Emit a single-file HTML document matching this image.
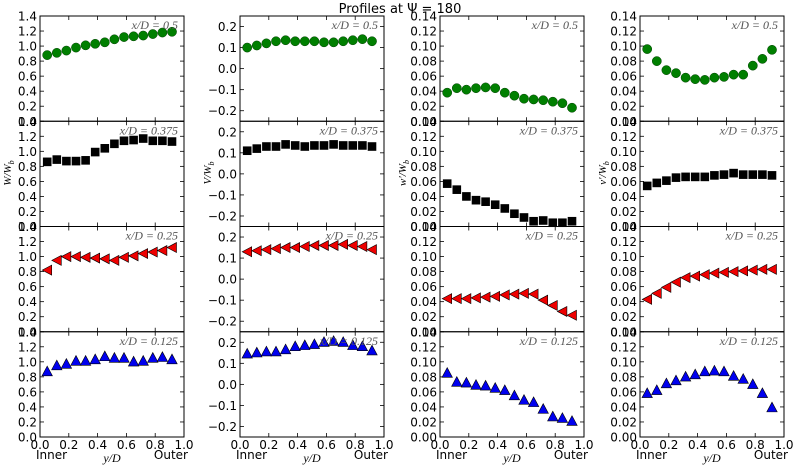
<!DOCTYPE html>
<html><head><meta charset="utf-8"><style>
body{margin:0;background:#fff}
svg{display:block}
text{font-family:"DejaVu Sans","Liberation Sans",sans-serif}
.it{font-family:"Liberation Serif",serif;font-style:italic}
</style></head><body>
<svg id="s" width="800" height="466" xmlns="http://www.w3.org/2000/svg">
<text x="400" y="13" text-anchor="middle" font-size="13">Profiles at Ψ = 180</text>
</svg>
<script>
const S=document.getElementById('s');let h='';
const lefts=[40,240,440,640],W=144,top0=16,RH=105.25;
const ranges=[[0,1.4],[-0.25,0.25],[0,0.14],[0,0.14]];
const ticks=[[0,.2,.4,.6,.8,1,1.2,1.4],[-.2,-.1,0,.1,.2],[0,.02,.04,.06,.08,.1,.12,.14],[0,.02,.04,.06,.08,.1,.12,.14]];
const fmt=[v=>v.toFixed(1),v=>(v<0?'−':'')+Math.abs(v).toFixed(1),v=>v.toFixed(2),v=>v.toFixed(2)];
const ylab=['W/W','V/W','w′/W','v′/W'];
const xd=['0.5','0.375','0.25','0.125'];
const D=[
[[.88,.91,.94,.98,1.01,1.03,1.05,1.09,1.12,1.13,1.14,1.16,1.18,1.19],
 [.86,.89,.87,.87,.88,.99,1.04,1.10,1.14,1.15,1.17,1.14,1.14,1.13],
 [.82,.95,1.0,1.0,.99,.98,.97,.95,.99,1.01,1.04,1.06,1.08,1.12],
 [.87,.95,.97,1.01,1.01,1.03,1.07,1.05,1.05,1.0,1.01,1.05,1.06,1.03]],
[[.10,.11,.12,.13,.135,.13,.13,.13,.125,.125,.13,.135,.14,.13],
 [.11,.12,.13,.13,.14,.135,.13,.135,.135,.14,.135,.135,.135,.13],
 [.13,.135,.14,.145,.15,.15,.155,.16,.16,.16,.165,.16,.155,.14],
 [.145,.15,.155,.155,.165,.18,.185,.19,.2,.205,.2,.185,.18,.16]],
[[.038,.044,.042,.044,.045,.044,.038,.034,.030,.029,.028,.026,.024,.018],
 [.057,.049,.040,.035,.033,.029,.024,.017,.012,.007,.008,.005,.005,.007],
 [.044,.044,.044,.045,.046,.047,.049,.05,.051,.05,.042,.035,.027,.022],
 [.085,.073,.072,.069,.068,.065,.062,.055,.049,.046,.037,.027,.025,.021]],
[[.096,.080,.068,.064,.058,.056,.055,.058,.059,.062,.062,.074,.083,.095],
 [.054,.058,.061,.065,.066,.066,.066,.068,.069,.071,.069,.069,.069,.068],
 [.043,.051,.059,.066,.072,.074,.076,.078,.079,.08,.081,.082,.083,.083],
 [.058,.062,.071,.075,.08,.083,.087,.088,.087,.081,.077,.07,.058,.039]]];
function mk(r,x,y){
 if(r==0)return `<circle cx="${x}" cy="${y}" r="4.6" fill="#007f00" stroke="#004000" stroke-width=".5"/>`;
 if(r==1)return `<rect x="${x-4.3}" y="${y-4.3}" width="8.6" height="8.6" fill="#000"/>`;
 if(r==2)return `<polygon points="${x-5},${y} ${x+4.5},${y-5} ${x+4.5},${y+5}" fill="#e00" stroke="#000" stroke-width=".6"/>`;
 return `<polygon points="${x},${y-5.5} ${x-5.2},${y+4.2} ${x+5.2},${y+4.2}" fill="#0000ee" stroke="#000" stroke-width=".6"/>`;
}
for(let c=0;c<4;c++){
 const L=lefts[c],[a,b]=ranges[c];
 for(let r=0;r<4;r++){
  const T=top0+r*RH,B=T+RH;
  const Y=v=>B-(v-a)/(b-a)*RH;
  for(const t of ticks[c]){const y=Y(t);
   h+=`<line x1="${L}" x2="${L+4}" y1="${y}" y2="${y}" stroke="#000" stroke-width=".8"/><line x1="${L+W-4}" x2="${L+W}" y1="${y}" y2="${y}" stroke="#000" stroke-width=".8"/>`;
   h+=`<text x="${L-3}" y="${y+4.5}" text-anchor="end" font-size="12">${fmt[c](t)}</text>`;}
  for(let i=0;i<=5;i++){const x=L+i*W/5;
   h+=`<line x1="${x}" x2="${x}" y1="${B}" y2="${B-4}" stroke="#000" stroke-width=".8"/><line x1="${x}" x2="${x}" y1="${T}" y2="${T+4}" stroke="#000" stroke-width=".8"/>`;
   if(r==3)h+=`<text x="${x}" y="${B+12}" text-anchor="middle" font-size="12">${(i/5).toFixed(1)}</text>`;}
  D[c][r].forEach((v,i)=>{h+=mk(r,L+(0.05+i/15)*W,Y(v));});
  h+=`<rect x="${L}" y="${T}" width="${W}" height="${RH}" fill="none" stroke="#000" stroke-width="1"/>`;
  h+=`<text class="it" x="${L+W-6}" y="${T+13}" text-anchor="end" font-size="12" fill="#555">x/D = 0.${xd[r].slice(2)}</text>`;
 }
 h+=`<text x="${L-4}" y="459" font-size="12">Inner</text><text x="${L+W+4}" y="459" text-anchor="end" font-size="12">Outer</text>`;
 h+=`<text class="it" x="${L+W/2}" y="462" text-anchor="middle" font-size="12">y/D</text>`;
 const lx=c==0?11:(c==1?L-29:L-34);
 h+=`<text class="it" transform="translate(${lx},173) rotate(-90)" text-anchor="middle" font-size="11">${ylab[c]}<tspan font-size="8" dy="3">b</tspan></text>`;
}
S.insertAdjacentHTML('beforeend',h);
</script>
</body></html>
